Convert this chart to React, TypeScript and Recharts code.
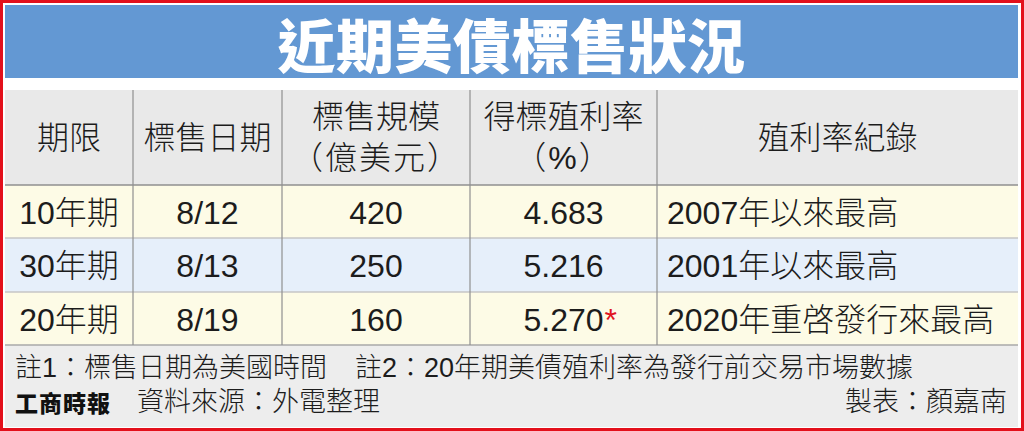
import React from 'react';
import { ScatterChart, XAxis, YAxis, Scatter, ReferenceArea, ReferenceLine } from 'recharts';

// ---------- data ----------
const title = '近期美債標售狀況';
const headers: string[][] = [['期限'], ['標售日期'], ['標售規模', '（億美元）'], ['得標殖利率', '（%）'], ['殖利率紀錄']];
const terms = ['10年期', '30年期', '20年期'];
const auctionDates = ['8/12', '8/13', '8/19'];
const auctionSizes = [420, 250, 160];
const yields = ['4.683', '5.216', '5.270'];
const yieldMarks = ['', '', '*'];
const records = ['2007年以來最高', '2001年以來最高', '2020年重啓發行來最高'];
const note1 = '註1：標售日期為美國時間';
const note2 = '註2：20年期美債殖利率為發行前交易市場數據';
const logo = '工商時報';
const source = '資料來源：外電整理';
const maker = '製表：顏嘉南';

// ---------- layout ----------
const W = 1024;
const H = 431;
const FONT = "'Liberation Sans', 'Noto Sans CJK TC', sans-serif";
const CJK = "'Noto Sans CJK TC', sans-serif";
const colEdges = [5, 133, 282, 470, 657, 1018];
const titleTop = 5;
const titleBottom = 78;
const headerTop = 90;
const rowEdges = [185, 238, 292, 345];
const footerBottom = 427;
const rowFills = ['#fdfbe6', '#e6effa', '#fdfbe6'];
const TEXT = '#1c1c1c';
const BODY_WEIGHT = 300;

type Item = {
  x: number;
  y: number;
  text: string;
  size: number;
  weight?: number;
  color?: string;
  anchor?: 'start' | 'middle' | 'end';
  family?: string;
  spacing?: number;
  mark?: string;
  markColor?: string;
};

let ctx: CanvasRenderingContext2D | null = null;
function measure(text: string, size: number, family: string, weight = 400) {
  if (typeof document === 'undefined') return text.length * size * 0.55;
  if (!ctx) ctx = document.createElement('canvas').getContext('2d');
  if (!ctx) return text.length * size * 0.55;
  ctx.font = `${weight} ${size}px ${family}`;
  return ctx.measureText(text).width;
}

const items: Item[] = [];
items.push({ x: (colEdges[0] + colEdges[5]) / 2, y: (titleTop + titleBottom) / 2 + 1, text: title, size: 58, weight: 900, color: '#ffffff', family: CJK, spacing: 0.5 });

const headerMid = (headerTop + rowEdges[0]) / 2;
headers.forEach((lines, c) => {
  const cx = (colEdges[c] + colEdges[c + 1]) / 2;
  lines.forEach((line, i) => {
    const y = lines.length === 1 ? headerMid : headerMid + (i === 0 ? -20.5 : 20.5);
    items.push({ x: cx, y, text: line, size: 32, spacing: i === 1 ? 2 : 0 });
  });
});

terms.forEach((term, r) => {
  const y = (rowEdges[r] + rowEdges[r + 1]) / 2 + 1;
  const cells = [term, auctionDates[r], String(auctionSizes[r]), yields[r]];
  cells.forEach((t, c) => {
    items.push({
      x: (colEdges[c] + colEdges[c + 1]) / 2,
      y,
      text: t,
      size: 32,
      mark: c === 3 ? yieldMarks[r] : undefined,
      markColor: '#e0141e',
    });
  });
  items.push({ x: colEdges[4] + 10, y, text: records[r], size: 32, anchor: 'start' });
});

items.push({ x: 15, y: 368, text: note1, size: 27, anchor: 'start' });
items.push({ x: 355, y: 368, text: note2, size: 27, anchor: 'start' });
items.push({ x: 15, y: 402, text: logo, size: 23, weight: 900, anchor: 'start', family: CJK, color: '#111', spacing: 1 });
items.push({ x: 137, y: 402, text: source, size: 27, anchor: 'start' });
items.push({ x: 1007, y: 402, text: maker, size: 27, anchor: 'end' });

const TextShape = (props: any) => {
  const { cx, cy, payload } = props;
  const p = payload as Item;
  if (cx == null || cy == null) return null;
  const fam = p.family || FONT;
  const anchor = p.anchor || 'middle';
  const weight = p.weight || BODY_WEIGHT;
  let markX = 0;
  if (p.mark) {
    const w = measure(p.text, p.size, fam, weight);
    markX = anchor === 'middle' ? cx + w / 2 + 1 : anchor === 'start' ? cx + w + 1 : cx + 1;
  }
  return (
    <g>
      <text
        x={cx}
        y={cy}
        textAnchor={anchor}
        dominantBaseline="central"
        fontFamily={fam}
        fontSize={p.size}
        fontWeight={weight}
        letterSpacing={p.spacing || 0}
        fill={p.color || TEXT}
      >
        {p.text}
      </text>
      {p.mark ? (
        <text x={markX} y={cy} textAnchor="start" dominantBaseline="central" fontFamily={FONT} fontSize={p.size} fill={p.markColor}>
          {p.mark}
        </text>
      ) : null}
    </g>
  );
};

export default function App() {
  const gridY0 = headerTop;
  const gridY1 = rowEdges[rowEdges.length - 1];
  return (
    <div style={{ position: 'absolute', left: 0, top: 0, width: W, height: H, background: '#fff' }}>
      <ScatterChart width={W} height={H} margin={{ top: 0, right: 0, bottom: 0, left: 0 }}>
        <XAxis type="number" dataKey="x" domain={[0, W]} hide allowDataOverflow />
        <YAxis type="number" dataKey="y" domain={[0, H]} reversed hide allowDataOverflow />
        {/* frame */}
        <ReferenceArea x1={1.5} x2={W - 1.5} y1={1.5} y2={H - 1.5} fill="#ffffff" fillOpacity={1} stroke="#e3101b" strokeWidth={3} ifOverflow="visible" />
        {/* title bar */}
        <ReferenceArea x1={colEdges[0]} x2={colEdges[5]} y1={titleTop} y2={titleBottom} fill="#6398d3" fillOpacity={1} />
        {/* header */}
        <ReferenceArea x1={colEdges[0]} x2={colEdges[5]} y1={headerTop} y2={rowEdges[0]} fill="#e9e9e9" fillOpacity={1} />
        {/* rows */}
        {rowFills.map((f, r) => (
          <ReferenceArea key={'row' + r} x1={colEdges[0]} x2={colEdges[5]} y1={rowEdges[r]} y2={rowEdges[r + 1]} fill={f} fillOpacity={1} />
        ))}
        {/* footer */}
        <ReferenceArea x1={colEdges[0]} x2={colEdges[5]} y1={rowEdges[3]} y2={footerBottom} fill="#ededed" fillOpacity={1} />
        {/* horizontal lines */}
        <ReferenceLine segment={[{ x: colEdges[0], y: rowEdges[0] }, { x: colEdges[5], y: rowEdges[0] }]} stroke="#8f8f8f" strokeWidth={1.5} />
        <ReferenceLine segment={[{ x: colEdges[0], y: rowEdges[1] }, { x: colEdges[5], y: rowEdges[1] }]} stroke="#c6c6c6" strokeWidth={1.5} />
        <ReferenceLine segment={[{ x: colEdges[0], y: rowEdges[2] }, { x: colEdges[5], y: rowEdges[2] }]} stroke="#c6c6c6" strokeWidth={1.5} />
        <ReferenceLine segment={[{ x: colEdges[0], y: rowEdges[3] }, { x: colEdges[5], y: rowEdges[3] }]} stroke="#a8a8a8" strokeWidth={1.5} />
        {/* vertical lines */}
        {colEdges.slice(1, 5).map((x, i) => (
          <ReferenceLine key={'v' + i} segment={[{ x, y: gridY0 }, { x, y: gridY1 }]} stroke="#8f8f8f" strokeWidth={1.2} />
        ))}
        <Scatter data={items} shape={TextShape} isAnimationActive={false} />
      </ScatterChart>
    </div>
  );
}
